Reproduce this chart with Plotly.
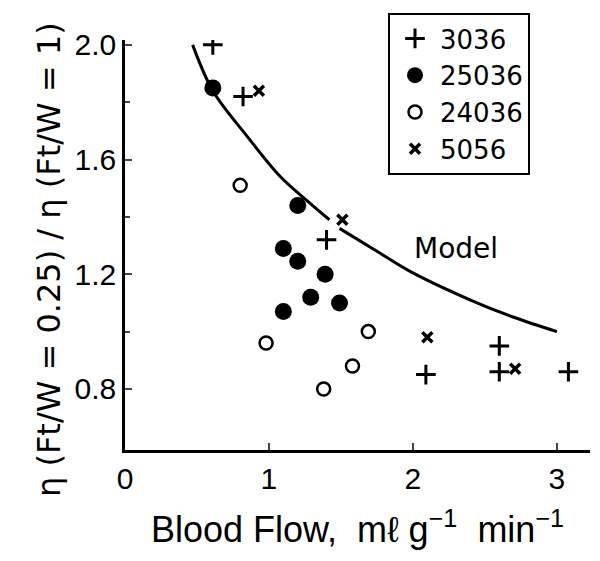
import plotly.graph_objects as go

# values
flow_3036 = [0.61, 0.82, 1.40, 2.09, 2.60, 2.60, 3.08]
ratio_3036 = [2.00, 1.82, 1.32, 0.85, 0.95, 0.86, 0.86]

flow_25036 = [0.61, 1.20, 1.10, 1.20, 1.39, 1.29, 1.49, 1.10]
ratio_25036 = [1.85, 1.44, 1.29, 1.245, 1.20, 1.12, 1.10, 1.07]

flow_24036 = [0.80, 0.98, 1.69, 1.58, 1.38]
ratio_24036 = [1.51, 0.96, 1.00, 0.88, 0.80]

flow_5056 = [0.93, 1.51, 2.10, 2.71]
ratio_5056 = [1.84, 1.39, 0.98, 0.87]

model_x = [0.47, 0.61, 0.85, 1.08, 1.28, 1.42, None, 1.49, 1.75, 1.98, 2.40, 2.70, 3.0]
model_y = [2.0, 1.84, 1.68, 1.54, 1.45, 1.39, None, 1.36, 1.28, 1.21, 1.11, 1.05, 1.0]

x_ticks = [0, 1, 2, 3]
y_ticks = [0.8, 1.2, 1.6, 2.0]

FONT = "Liberation Sans, Arial, sans-serif"
WIDE = "DejaVu Sans, sans-serif"

fig = go.Figure()

fig.add_trace(go.Scatter(x=model_x, y=model_y, mode="lines", line=dict(color="black", width=3, shape="spline"),
                         connectgaps=False, showlegend=False, hoverinfo="skip"))

fig.add_trace(go.Scatter(x=flow_3036, y=ratio_3036, mode="markers", name="3036",
                         marker=dict(symbol="cross-thin", size=14, color="black", line=dict(color="black", width=3))))
fig.add_trace(go.Scatter(x=flow_25036, y=ratio_25036, mode="markers", name="25036",
                         marker=dict(symbol="circle", size=17, color="black")))
fig.add_trace(go.Scatter(x=flow_24036, y=ratio_24036, mode="markers", name="24036",
                         marker=dict(symbol="circle-open", size=13, color="black", line=dict(color="black", width=2.5))))
fig.add_trace(go.Scatter(x=flow_5056, y=ratio_5056, mode="markers", name="5056",
                         marker=dict(symbol="x-thin", size=10, color="black", line=dict(color="black", width=3.5))))

fig.add_annotation(x=2.30, y=1.29, text="Model", showarrow=False, font=dict(family=WIDE, size=28, color="black"))

# y title as a rotated annotation so it can sit a little below the plot centre, as in the original
fig.add_annotation(x=-0.2086, y=0.4634, xref="paper", yref="paper", textangle=-90, showarrow=False,
                   text="η (Ft/W = 0.25) / η (Ft/W = 1)", font=dict(family=WIDE, size=32, color="black"))

# the page body adds 8px around the figure, so the figure is 8px smaller and margins shifted
fig.update_layout(
    width=592, height=553,
    margin=dict(l=117, r=10, t=32, b=111, autoexpand=False),
    paper_bgcolor="white", plot_bgcolor="white",
    font=dict(family=FONT, color="black"),
    legend=dict(x=0.5656, y=1.0659, xanchor="left", yanchor="top",
                bordercolor="black", borderwidth=2, bgcolor="white",
                font=dict(size=26, family=WIDE), tracegroupgap=0, itemwidth=40),
)

fig.update_xaxes(range=[0, 3.23], tickvals=x_ticks, ticks="inside", ticklen=7, tickwidth=2,
                 showline=True, linecolor="black", linewidth=2.5, showgrid=False, zeroline=False,
                 tickfont=dict(size=30), automargin=False,
                 title=dict(text="Blood Flow,  mℓ g<sup>−1</sup>  min<sup>−1</sup>", font=dict(size=36), standoff=24))
fig.update_yaxes(range=[0.587, 2.017], tickvals=y_ticks, ticktext=["0.8", "1.2", "1.6", "2.0"],
                 ticks="inside", ticklen=7, tickwidth=2,
                 minor=dict(tickvals=[1.0, 1.4, 1.8], ticks="inside", ticklen=5, tickwidth=1.5),
                 showline=True, linecolor="black", linewidth=2.5, showgrid=False, zeroline=False,
                 tickfont=dict(size=30), automargin=False)

fig.write_html("out.html")
